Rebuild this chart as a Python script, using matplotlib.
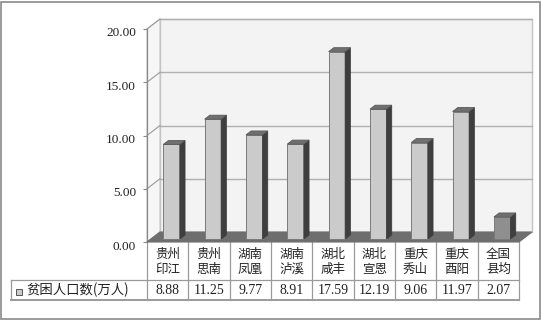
import matplotlib.pyplot as plt
from matplotlib.patches import Polygon, Rectangle
from matplotlib.transforms import blended_transform_factory, ScaledTranslation

# === Datos ===
regiones = ["贵州\n印江", "贵州\n思南", "湖南\n凤凰", "湖南\n泸溪", "湖北\n咸丰",
            "湖北\n宣恩", "重庆\n秀山", "重庆\n酉阳", "全国\n县均"]
pobreza = [8.88, 11.25, 9.77, 8.91, 17.59, 12.19, 9.06, 11.97, 2.07]
etiquetas_valor = ["8.88", "11.25", "9.77", "8.91", "17.59", "12.19", "9.06", "11.97", "2.07"]
serie = "贫困人口数(万人)"
ticks_y = [0, 5, 10, 15, 20]

W, H = 542, 320
cjk = ["Noto Sans CJK SC", "DejaVu Sans"]
serif = ["Liberation Serif", "DejaVu Serif"]

fig = plt.figure(figsize=(W / 100, H / 100), dpi=100)
fig.patch.set_facecolor("white")

# marco exterior
fig.add_artist(Rectangle((0.5 / W, 1.5 / H), (W - 3) / W, (H - 3) / H,
                         transform=fig.transFigure, fill=False,
                         edgecolor="#8a8a8a", linewidth=1.2))

# ejes en el plano frontal
x_izq, x_der, y_cero, y_top = 147, 519, 242, 29
ax = fig.add_axes([x_izq / W, 1 - y_cero / H, (x_der - x_izq) / W, (y_cero - y_top) / H])
n = len(pobreza)
ax.set_xlim(0, n)
ax.set_ylim(0, 20)
ax.set_facecolor("none")
for s in ["top", "right", "bottom"]:
    ax.spines[s].set_visible(False)
ax.spines["left"].set_color("#8a8a8a")
ax.spines["left"].set_linewidth(0.9)
ax.set_xticks([])
ax.set_yticks(ticks_y)
ax.set_yticklabels([f"{t:.2f}" for t in ticks_y], fontfamily=serif, fontsize=9.5, color="#222222")
ax.tick_params(axis="y", length=3, color="#8a8a8a", pad=5)
baja = ScaledTranslation(0, -3 / 100, fig.dpi_scale_trans)
for lab in ax.get_yticklabels():
    lab.set_transform(lab.get_transform() + baja)

# profundidad 3D
px_x = (x_der - x_izq) / n
px_y = (y_cero - y_top) / 20
dx = 13 / px_x
dy = 10 / px_y

def poly(pts, **kw):
    p = Polygon(pts, closed=True, clip_on=False, **kw)
    ax.add_patch(p)
    return p

# pared trasera, pared lateral y suelo
poly([(dx, dy), (n + dx, dy), (n + dx, 20 + dy), (dx, 20 + dy)],
     facecolor="#f3f3f3", edgecolor="#c4c4c4", linewidth=1.0, zorder=1)
poly([(0, 0), (dx, dy), (dx, 20 + dy), (0, 20)],
     facecolor="#f6f6f6", edgecolor="#c4c4c4", linewidth=0.8, zorder=1)
for t in ticks_y[1:]:
    ax.plot([dx, n + dx], [t + dy, t + dy], color="#b0b0b0", lw=1.0, zorder=2, clip_on=False)
    ax.plot([0, dx], [t, t + dy], color="#9a9a9a", lw=0.8, zorder=2, clip_on=False)
poly([(0, 0), (n, 0), (n + dx, dy), (dx, dy)],
     facecolor="#6e6e6e", edgecolor="#6e6e6e", linewidth=0.8, zorder=3)

# barras
ancho = 0.4
t0, t1 = 0.3, 0.7
for i, v in enumerate(pobreza):
    x0 = i + 0.5 - ancho / 2
    x1 = x0 + ancho
    frente = "#8f8f8f" if i == n - 1 else "#cbcbcb"
    poly([(x0 + t0 * dx, t0 * dy), (x1 + t0 * dx, t0 * dy), (x1 + t0 * dx, v + t0 * dy), (x0 + t0 * dx, v + t0 * dy)],
         facecolor=frente, edgecolor="#7a7a7a", linewidth=0.7, zorder=5)
    poly([(x1 + t0 * dx, t0 * dy), (x1 + t1 * dx, t1 * dy), (x1 + t1 * dx, v + t1 * dy), (x1 + t0 * dx, v + t0 * dy)],
         facecolor="#3e3e3e", edgecolor="#3e3e3e", linewidth=0.6, zorder=5)
    poly([(x0 + t0 * dx, v + t0 * dy), (x1 + t0 * dx, v + t0 * dy), (x1 + t1 * dx, v + t1 * dy), (x0 + t1 * dx, v + t1 * dy)],
         facecolor="#6f6f6f", edgecolor="#5a5a5a", linewidth=0.6, zorder=5)

# tabla de datos
tr = blended_transform_factory(ax.transData, fig.transFigure)
fy = lambda py: 1 - py / H
col_linea = "#9a9a9a"
y_fila1, y_fila2 = 280, 300
for i in range(n + 1):
    ax.plot([i, i], [fy(y_cero), fy(y_fila2)], transform=tr, color=col_linea, lw=0.9, clip_on=False)
fig.add_artist(plt.Line2D([11 / W, x_der / W], [fy(y_fila1), fy(y_fila1)], color=col_linea, lw=0.9))
fig.add_artist(plt.Line2D([11 / W, x_der / W], [fy(y_fila2), fy(y_fila2)], color=col_linea, lw=1.4))
fig.add_artist(plt.Line2D([11 / W, 11 / W], [fy(y_fila1), fy(y_fila2)], color=col_linea, lw=0.9))

for i, (r, e) in enumerate(zip(regiones, etiquetas_valor)):
    ax.text(i + 0.5, fy(262), r, transform=tr, ha="center", va="center",
            fontfamily=cjk, fontsize=9, color="#222222", linespacing=1.2)
    ax.text(i + 0.5, fy(291), e, transform=tr, ha="center", va="center",
            fontfamily=serif, fontsize=10, color="#222222")

fig.add_artist(Rectangle((16 / W, fy(295)), 6 / W, 6 / H, transform=fig.transFigure,
                         facecolor="#cbcbcb", edgecolor="#555555", linewidth=0.7))
fig.text(26 / W, fy(290), serie, ha="left", va="center", fontfamily=cjk,
         fontsize=9.6, color="#222222")

fig.savefig("out.png", dpi=100)
